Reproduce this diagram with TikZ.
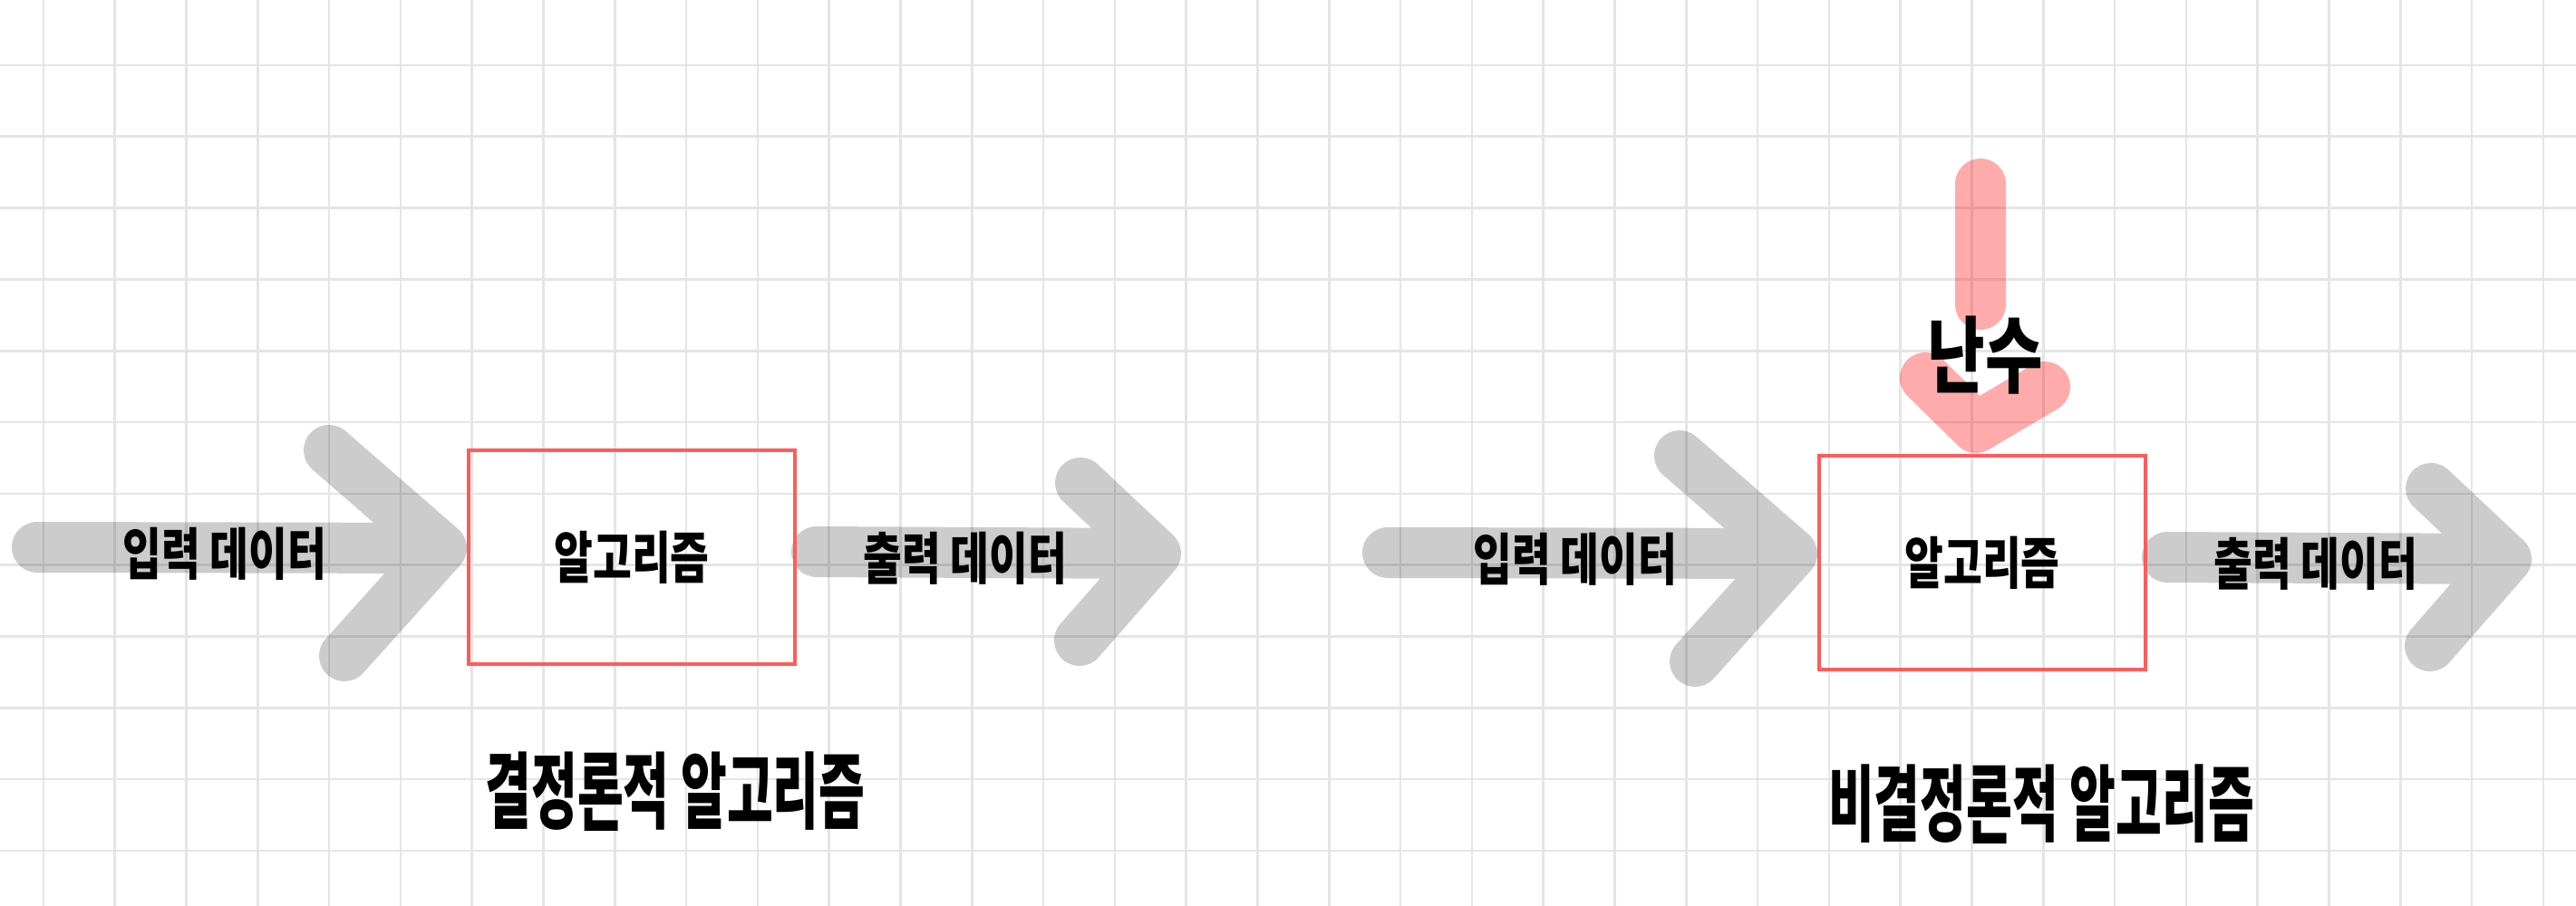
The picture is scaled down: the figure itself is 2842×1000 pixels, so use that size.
\documentclass[tikz,border=0pt]{standalone}
\usepackage{fontspec}
\newfontfamily\hand{Noto Sans CJK KR}[FakeStretch=0.75]
\newfontfamily\capt{Noto Sans CJK KR}[FakeStretch=0.6]
\definecolor{gridgray}{HTML}{E5E5E5}
\definecolor{boxred}{HTML}{FF5C5C}
\begin{document}
\begin{tikzpicture}[x=0.5pt,y=-0.5pt,
    grid/.style={gridgray,line width=1.3pt},
    fatarrow/.style={line width=28pt,line cap=round,line join=round,
      draw=black,draw opacity=0.2},
    randarrow/.style={fatarrow,draw=red,draw opacity=0.33},
    algbox/.style={draw=boxred,line width=1.75pt,inner sep=0pt,
      minimum width=180pt,minimum height=118pt,
      font=\hand\bfseries\fontsize{31}{31}\selectfont},
    lbl/.style={inner sep=0pt,font=\hand\bfseries\fontsize{31}{31}\selectfont},
    captxt/.style={inner sep=0pt,font=\capt\bfseries\fontsize{46}{46}\selectfont}]
  \fill[white] (0,0) rectangle (2842,1000);
  \useasboundingbox (0,0) rectangle (2842,1000);
  % squared paper
  \foreach \i in {0,...,35}
    \draw[grid] (47.8+78.8*\i,0) -- (47.8+78.8*\i,1000);
  \foreach \j in {0,...,11}
    \draw[grid] (0,72+78.8*\j) -- (2842,72+78.8*\j);
  % the two algorithms, side by side
  \foreach \s/\dx/\dy/\cx/\cy/\cpt in {1/0/0/745/874/{결정론적 알고리즘},
      2/1490/6/762/882/{비결정론적 알고리즘}}{
    \begin{scope}[shift={(\dx,\dy)}]
      \coordinate (ina\s) at (41,604);
      \coordinate (inb\s) at (487,605);
      \coordinate (inc\s) at (363,497);
      \coordinate (ind\s) at (380,724);
      \coordinate (outa\s) at (901,609);
      \coordinate (outb\s) at (1275,611);
      \coordinate (outc\s) at (1192,533);
      \coordinate (outd\s) at (1191,707);
      \draw[fatarrow] (ina\s) -- (inb\s) (inc\s) -- (inb\s) -- (ind\s);
      \draw[fatarrow] (outa\s) -- (outb\s) (outc\s) -- (outb\s) -- (outd\s);
      \node[algbox] (alg\s) at (697,615) {알고리즘};
      \node[lbl] (inl\s) at (248,611) {입력 데이터};
      \node[lbl] (outl\s) at (1065,616) {출력 데이터};
      \node[captxt] (cap\s) at (\cx,\cy) {\cpt};
    \end{scope}
  }
  % random numbers fed in from above
  \coordinate (rnda) at (2185,203);
  \coordinate (rndb) at (2185,336);
  \coordinate (rndc) at (2124,417);
  \coordinate (rndd) at (2180,472);
  \coordinate (rnde) at (2256,427);
  \draw[randarrow] (rnda) -- (rndb) (rndc) -- (rndd) -- (rnde);
  \node[lbl,font=\hand\bfseries\fontsize{46}{46}\selectfont] (rnd) at (2190,392) {난수};
\end{tikzpicture}
\end{document}
